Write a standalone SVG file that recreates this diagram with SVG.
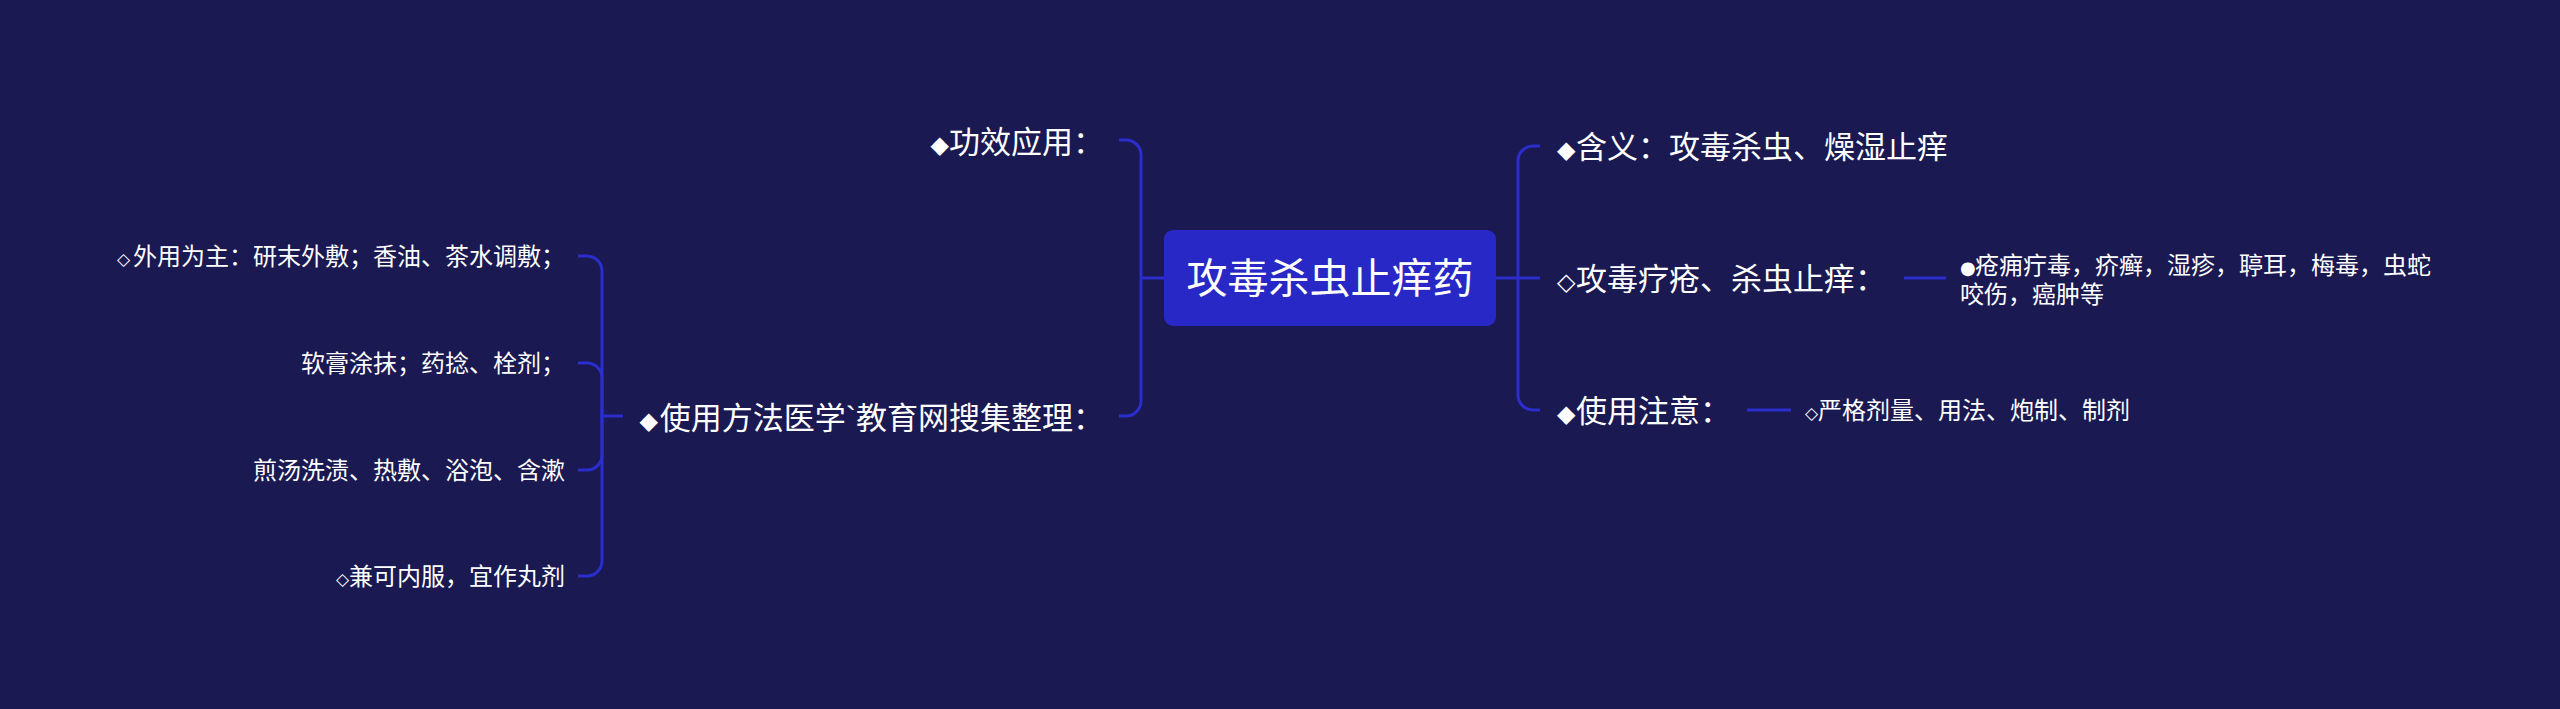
<svg xmlns="http://www.w3.org/2000/svg" width="2560" height="709" viewBox="0 0 2560 709">
<style>
.bg{fill:#1a1952}
.c{fill:none;stroke:#2b2dcc;stroke-width:3;stroke-linecap:butt}
.t{font-family:"Noto Sans CJK SC","Noto Sans",sans-serif;fill:#ffffff}
.root{font-size:41px}
.l1{font-size:31px}
.l2{font-size:24px}
.d1{font-family:"DejaVu Sans",sans-serif;font-size:24px}
.d2{font-family:"DejaVu Sans",sans-serif;font-size:17px}
.d3{font-family:"DejaVu Sans",sans-serif;font-size:18px}
.bt{font-family:"Liberation Sans",sans-serif}
</style>
<rect class="bg" x="0" y="0" width="2560" height="709"/>
<g id="connectors">
<path class="c" d="M1164 278 H1141"/>
<path class="c" d="M1141 278 V155 A15 15 0 0 0 1126 140 H1119"/>
<path class="c" d="M1141 278 V401 A15 15 0 0 1 1126 416 H1119"/>
<path class="c" d="M1496 278 H1540"/>
<path class="c" d="M1518 278 V161 A15 15 0 0 1 1533 146 H1540"/>
<path class="c" d="M1518 278 V395 A15 15 0 0 0 1533 410 H1540"/>
<path class="c" d="M1904 278 H1946"/>
<path class="c" d="M1747 410 H1791"/>
<path class="c" d="M623 416 H602"/>
<path class="c" d="M602 416 V271 A15 15 0 0 0 587 256 H578"/>
<path class="c" d="M602 416 V378 A15 15 0 0 0 587 363 H578"/>
<path class="c" d="M602 416 V455 A15 15 0 0 1 587 470 H578"/>
<path class="c" d="M602 416 V561 A15 15 0 0 1 587 576 H578"/>
</g>
<g id="root">
<rect x="1164" y="230" width="332" height="96" rx="9" fill="#2828c6"/>
<text class="t root" x="1330" y="293" text-anchor="middle">攻毒杀虫止痒药</text>
</g>
<g id="n-gongxiao">
<text class="t l1" y="153" text-anchor="end"><tspan class="d1" x="949">◆</tspan><tspan x="1104">功效应用：</tspan></text>
</g>
<g id="n-shiyong">
<text class="t l1" y="429" text-anchor="end"><tspan class="d1" x="658">◆</tspan><tspan x="1104">使用方法医学<tspan class="bt">`</tspan>教育网搜集整理：</tspan></text>
</g>
<g id="n-hanyi">
<text class="t l1" y="158"><tspan class="d1" x="1557">◆</tspan><tspan x="1576">含义：攻毒杀虫、燥湿止痒</tspan></text>
</g>
<g id="n-gongdu">
<text class="t l1" y="290"><tspan class="d1" x="1557">◇</tspan><tspan x="1576">攻毒疗疮、杀虫止痒：</tspan></text>
</g>
<g id="n-zhuyi">
<text class="t l1" y="422"><tspan class="d1" x="1557">◆</tspan><tspan x="1576">使用注意：</tspan></text>
</g>
<g id="leaf-chuang">
<text class="t l2" y="274"><tspan class="d3" x="1960">●</tspan><tspan x="1975">疮痈疔毒，疥癣，湿疹，聤耳，梅毒，虫蛇</tspan><tspan x="1960" y="303">咬伤，癌肿等</tspan></text>
</g>
<g id="leaf-yange">
<text class="t l2" y="419"><tspan class="d2" x="1805">◇</tspan><tspan x="1818">严格剂量、用法、炮制、制剂</tspan></text>
</g>
<g id="leaf-waiyong">
<text class="t l2" y="265" text-anchor="end"><tspan class="d2" x="130">◇</tspan><tspan x="565">外用为主：研末外敷；香油、茶水调敷；</tspan></text>
</g>
<g id="leaf-ruangao">
<text class="t l2" x="565" y="372" text-anchor="end">软膏涂抹；药捻、栓剂；</text>
</g>
<g id="leaf-jiantang">
<text class="t l2" x="565" y="479" text-anchor="end">煎汤洗渍、热敷、浴泡、含漱</text>
</g>
<g id="leaf-jianke">
<text class="t l2" y="585" text-anchor="end"><tspan class="d2" x="349">◇</tspan><tspan x="565">兼可内服，宜作丸剂</tspan></text>
</g>
</svg>
